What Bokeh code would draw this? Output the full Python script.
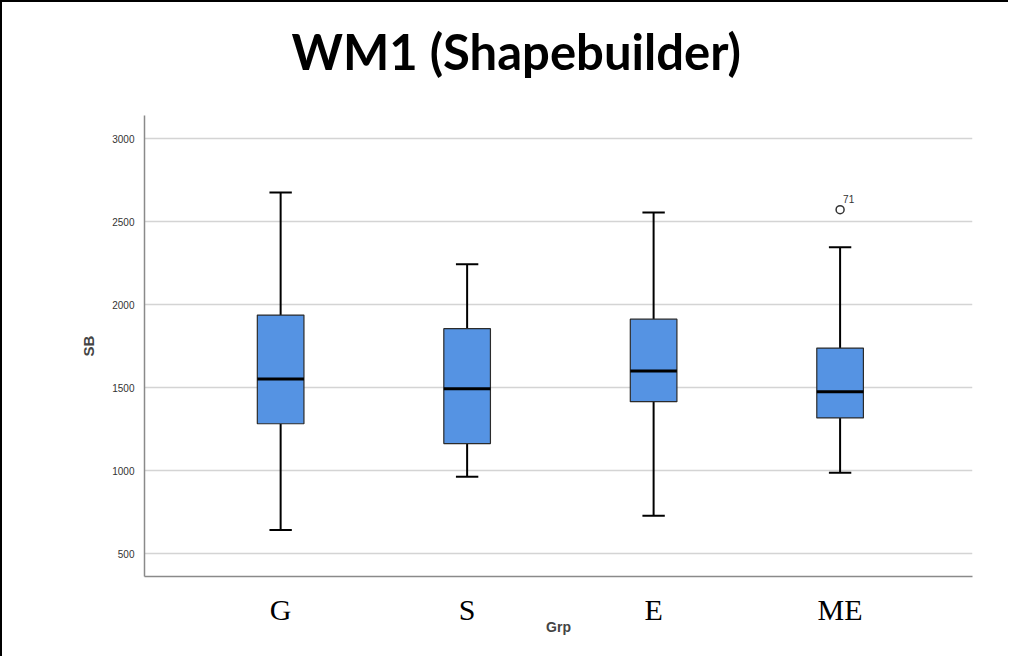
from bokeh.plotting import figure
from bokeh.models import Range1d, FixedTicker, ColumnDataSource, Title
from bokeh.core.properties import value
from bokeh.embed import file_html
from bokeh.resources import INLINE

title_text = "WM1 (Shapebuilder)"
groups = ["G", "S", "E", "ME"]
positions = [1, 2, 3, 4]
upper_whisker = [2675, 2243, 2555, 2345]
q3 = [1937, 1855, 1912, 1738]
median = [1552, 1493, 1600, 1475]
q1 = [1282, 1163, 1415, 1317]
lower_whisker = [642, 963, 728, 987]
outlier_group = [4]
outlier_value = [2572]
outlier_label = ["71"]
y_ticks = [500, 1000, 1500, 2000, 2500, 3000]

box_w = 0.25
cap_w = 0.12

src = ColumnDataSource(dict(
    x=positions, uw=upper_whisker, q3=q3, med=median, q1=q1, lw=lower_whisker,
    cl=[p - cap_w / 2 for p in positions], cr=[p + cap_w / 2 for p in positions],
    ml=[p - box_w / 2 for p in positions], mr=[p + box_w / 2 for p in positions],
))

p = figure(width=1008, height=656, output_backend="svg", toolbar_location=None,
           x_range=Range1d(0.27, 4.71), y_range=Range1d(362, 3139),
           min_border_left=142, min_border_right=38, min_border_top=113, min_border_bottom=82)
p.styles = {"border-left": "2px solid black", "border-top": "2px solid black"}

# spacer between title and frame
spacer = Title(text=" ", text_font_size="1px", standoff=33)
p.add_layout(spacer, "above")
main_title = Title(text=title_text, text_font="Lato", text_font_size="49px",
                   text_font_style="bold", text_color="black", align="left",
                   offset=147, standoff=0)
p.add_layout(main_title, "above")

p.outline_line_color = None
p.background_fill_color = "white"
p.border_fill_color = "white"

p.xgrid.grid_line_color = None
p.ygrid.grid_line_color = "#d4d4d4"
p.ygrid.grid_line_width = 1.5

p.yaxis.ticker = FixedTicker(ticks=y_ticks)
p.yaxis.major_tick_line_color = None
p.yaxis.minor_tick_line_color = None
p.yaxis.axis_line_color = "#8a8a8a"
p.yaxis.axis_line_width = 1.5
p.yaxis.major_label_text_font = "Liberation Sans"
p.yaxis.major_label_text_font_size = "10px"
p.yaxis.major_label_text_color = "#333333"
p.yaxis.major_label_standoff = 4
p.yaxis.axis_label = "SB"
p.yaxis.axis_label_text_font = "Liberation Sans"
p.yaxis.axis_label_text_font_size = "15px"
p.yaxis.axis_label_text_font_style = "bold"
p.yaxis.axis_label_standoff = 12

p.xaxis.ticker = FixedTicker(ticks=positions)
p.xaxis.major_label_overrides = {pos: g for pos, g in zip(positions, groups)}
p.xaxis.major_tick_line_color = None
p.xaxis.minor_tick_line_color = None
p.xaxis.axis_line_color = "#8a8a8a"
p.xaxis.axis_line_width = 1.5
p.xaxis.major_label_text_font = "Liberation Serif"
p.xaxis.major_label_text_font_size = "30px"
p.xaxis.major_label_text_color = "black"
p.xaxis.major_label_standoff = 10
p.xaxis.axis_label = "Grp"
p.xaxis.axis_label_text_font = "Liberation Sans"
p.xaxis.axis_label_text_font_size = "14px"
p.xaxis.axis_label_text_font_style = "bold"
p.xaxis.axis_label_standoff = -10

# whiskers
p.segment(x0="x", y0="q3", x1="x", y1="uw", source=src, line_color="black", line_width=2)
p.segment(x0="x", y0="q1", x1="x", y1="lw", source=src, line_color="black", line_width=2)
p.segment(x0="cl", y0="uw", x1="cr", y1="uw", source=src, line_color="black", line_width=2)
p.segment(x0="cl", y0="lw", x1="cr", y1="lw", source=src, line_color="black", line_width=2)
# boxes
p.vbar(x="x", width=box_w, top="q3", bottom="q1", source=src,
       fill_color="#5593E3", line_color="#2b2b2b", line_width=1.2)
# medians
p.segment(x0="ml", y0="med", x1="mr", y1="med", source=src, line_color="black", line_width=3)

# outlier
p.scatter(x=outlier_group, y=outlier_value, marker="circle", size=8,
          fill_color="white", line_color="#333333", line_width=1.5)
p.text(x=outlier_group, y=outlier_value, text=outlier_label, x_offset=3, y_offset=-7,
       text_font=value("Liberation Sans"), text_font_size="10px", text_color="#333333",
       text_baseline="bottom", text_align="left")

open("out.html", "w").write(file_html(p, INLINE))
